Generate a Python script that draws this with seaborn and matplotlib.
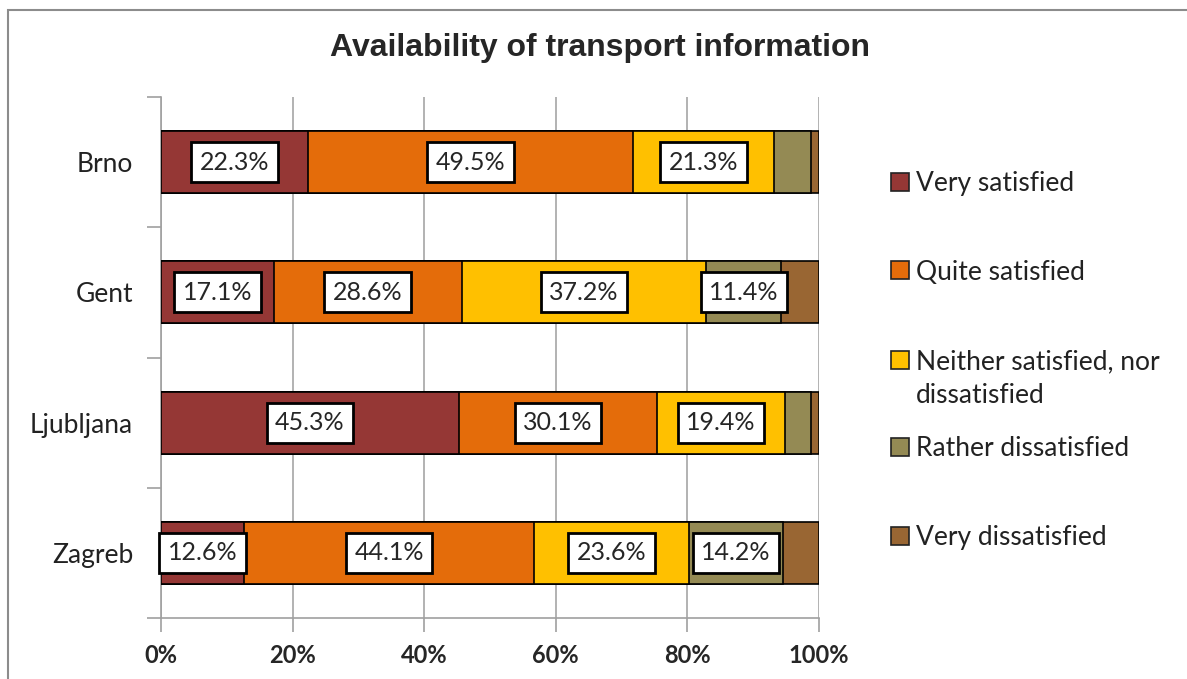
import matplotlib
matplotlib.use("Agg")
import matplotlib.pyplot as plt
from matplotlib.patches import Rectangle
import numpy as np
import pandas as pd
import seaborn as sns

# Survey shares (%) per city
cities = ["Brno", "Gent", "Ljubljana", "Zagreb"]
very_satisfied = [22.3, 17.1, 45.3, 12.6]
quite_satisfied = [49.5, 28.6, 30.1, 44.1]
neither = [21.3, 37.2, 19.4, 23.6]
rather_dissatisfied = [5.7, 11.4, 4.0, 14.2]
very_dissatisfied = [1.2, 5.7, 1.2, 5.5]

categories = ["Very satisfied", "Quite satisfied", "Neither satisfied, nor\ndissatisfied",
              "Rather dissatisfied", "Very dissatisfied"]
series = [very_satisfied, quite_satisfied, neither, rather_dissatisfied, very_dissatisfied]
colors = ["#953735", "#E46C0A", "#FFC000", "#948A54", "#996633"]

sns.set_theme(style="white")
plt.rcParams["font.family"] = ["Lato", "DejaVu Sans"]

W, H = 1187, 679
fig = plt.figure(figsize=(W / 100, H / 100), dpi=100)
ax = fig.add_axes([161 / W, 1 - 618 / H, (819 - 161) / W, (618 - 97) / H])

# outer chart frame
fig.patches.append(Rectangle((8 / W, -0.1), 1.5, 1 - 10 / H + 0.1, transform=fig.transFigure,
                             fill=False, edgecolor="#8c8c8c", linewidth=1.5))

vals = np.array(series)
cum = np.cumsum(vals, axis=0)
df = pd.DataFrame({"city": cities})

# stacked bars: draw cumulative totals from the widest down so each segment shows
for i in range(len(series) - 1, -1, -1):
    df["v"] = cum[i]
    sns.barplot(data=df, x="v", y="city", orient="h", color=colors[i], width=0.476,
                edgecolor="black", linewidth=1.2, saturation=1, ax=ax, zorder=3)

# value boxes on the larger segments
for i, s in enumerate(series):
    for j, v in enumerate(s):
        if v >= 10:
            center = cum[i][j] - v / 2
            ax.text(center, j, f"{v:.1f}%", ha="center", va="center", fontsize=18,
                    color="#262626", zorder=5,
                    bbox=dict(boxstyle="square,pad=0.34", facecolor="white",
                              edgecolor="black", linewidth=2))

ax.set_xlim(0, 100)
ax.set_ylim(len(cities) - 0.5, -0.5)
ax.set_xlabel("")
ax.set_ylabel("")
ax.set_xticks(np.arange(0, 101, 20))
ax.set_xticklabels([f"{t}%" for t in range(0, 101, 20)], fontweight="bold", fontsize=17)
ax.set_yticks(range(len(cities)))
ax.set_yticklabels(cities, fontsize=19, color="#222222")
ax.set_yticks(np.arange(-0.5, len(cities), 1), minor=True)
ax.tick_params(axis="y", which="major", length=0, pad=20)
ax.tick_params(axis="y", which="minor", length=10, color="#a0a0a0", width=1.2, left=True)
ax.tick_params(axis="x", which="major", length=10, color="#a0a0a0", width=1.2, bottom=True, pad=9)
ax.xaxis.grid(True, color="#a6a6a6", linewidth=1.2, zorder=0)
ax.set_axisbelow(True)
for side in ["top", "right"]:
    ax.spines[side].set_visible(False)
for side in ["left", "bottom"]:
    ax.spines[side].set_color("#a0a0a0")
    ax.spines[side].set_linewidth(1.2)

fig.text(600 / W, 1 - 48 / H, "Availability of transport information", ha="center", va="center",
         fontsize=23, fontweight="bold", family=["Liberation Sans", "DejaVu Sans"])

# legend entries
leg_y = [182, 270, 360, 447, 536]
for lab, col, y in zip(categories, colors, leg_y):
    fig.patches.append(Rectangle((891 / W, 1 - (y + 9) / H), 18 / W, 18 / H,
                                 transform=fig.transFigure, facecolor=col,
                                 edgecolor="#222222", linewidth=1.2))
    for k, line in enumerate(lab.split("\n")):
        fig.text(916 / W, 1 - (y + 2 + 33 * k) / H, line, ha="left", va="center", fontsize=19,
                 color="#222222")

fig.savefig("out.png", dpi=100)
